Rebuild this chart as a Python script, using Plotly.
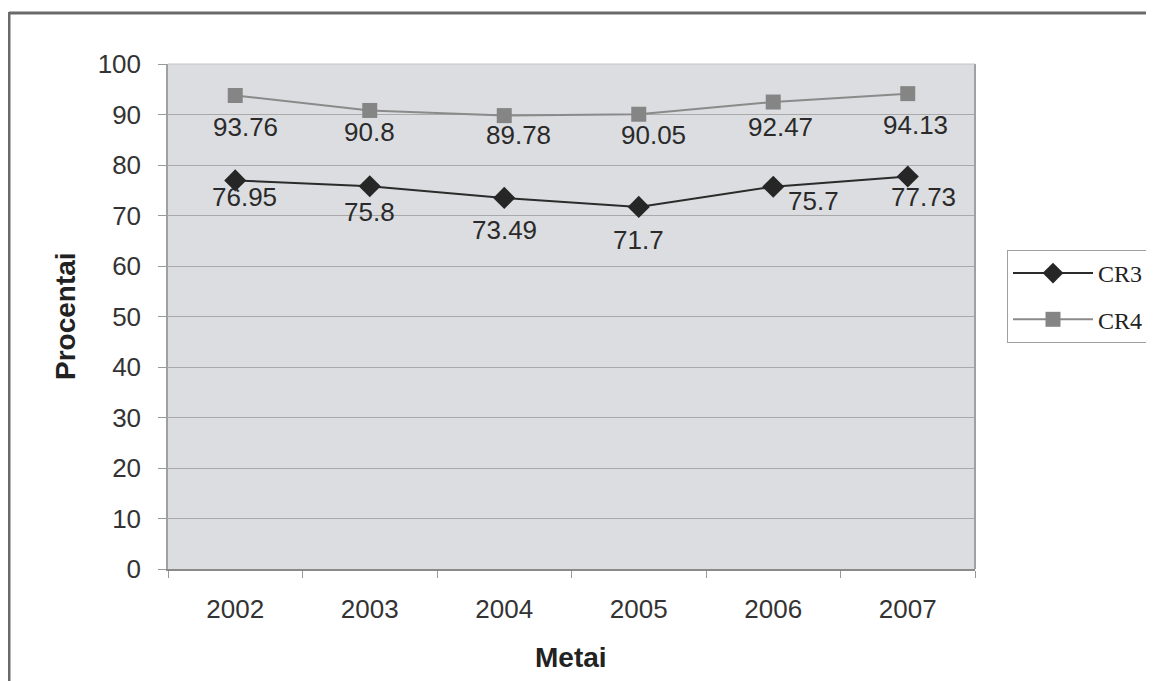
import plotly.graph_objects as go

years = ["2002", "2003", "2004", "2005", "2006", "2007"]
cr3 = [76.95, 75.8, 73.49, 71.7, 75.7, 77.73]
cr4 = [93.76, 90.8, 89.78, 90.05, 92.47, 94.13]
cr3_labels = ["76.95", "75.8", "73.49", "71.7", "75.7", "77.73"]
cr4_labels = ["93.76", "90.8", "89.78", "90.05", "92.47", "94.13"]
y_ticks = [0, 10, 20, 30, 40, 50, 60, 70, 80, 90, 100]

# label pixel offsets (style only)
cr3_off = [(9, -17), (0, -26), (0, -32), (0, -33), (40, -14), (16, -21)]
cr4_off = [(10, -31), (0, -22), (14, -19), (15, -21), (7, -25), (8, -31)]

OFF = 8  # page body margin
W, H = 1154 - OFF, 681 - OFF
PL, PR, PT, PB = 168, 975, 64, 569  # screen px of plot area
L, R, T, B = PL - OFF, W - (PR - OFF), PT - OFF, H - (PB - OFF)

fig = go.Figure()
fig.add_trace(go.Scatter(
    x=years, y=cr3, name="CR3", mode="lines+markers", legendgroup="a",
    line=dict(color="#2b2b2b", width=2),
    marker=dict(symbol="diamond", size=17, color="#262626"),
))
fig.add_trace(go.Scatter(
    x=years, y=cr4, name="CR4", mode="lines+markers", legendgroup="b",
    line=dict(color="#8a8a8a", width=2),
    marker=dict(symbol="square", size=15, color="#858585"),
))

anns = []
for ys, labs, offs in [(cr3, cr3_labels, cr3_off), (cr4, cr4_labels, cr4_off)]:
    for i, (y, t, (dx, dy)) in enumerate(zip(ys, labs, offs)):
        anns.append(dict(x=i, y=y, xref="x", yref="y", text=t, showarrow=False,
                         xshift=dx, yshift=dy, xanchor="center", yanchor="middle",
                         font=dict(family="Liberation Sans, Arial", size=26, color="#2a2a2a")))

def px(xs):
    return (xs - PL) / (PR - PL)

def py(ys):
    return (PB - ys) / (PB - PT)

anns.append(dict(xref="paper", yref="paper", x=px(65), y=py(316), text="<b>Procentai</b>",
                 textangle=-90, showarrow=False, xanchor="center", yanchor="middle",
                 font=dict(family="Liberation Sans, Arial", size=28, color="#222")))
anns.append(dict(xref="paper", yref="paper", x=px(571), y=py(657), text="<b>Metai</b>",
                 showarrow=False, xanchor="center", yanchor="middle",
                 font=dict(family="Liberation Sans, Arial", size=28, color="#222")))

shapes = [
    dict(type="line", xref="paper", yref="paper", x0=px(9), y0=py(13), x1=px(1170), y1=py(13),
         line=dict(color="#6a6a6a", width=3)),
    dict(type="line", xref="paper", yref="paper", x0=px(9), y0=py(12), x1=px(9), y1=py(700),
         line=dict(color="#6a6a6a", width=3)),
    dict(type="line", xref="paper", yref="paper", x0=1, y0=0, x1=1, y1=1,
         line=dict(color="#a0a0a0", width=2)),
    dict(type="line", xref="paper", yref="paper", x0=0, y0=1, x1=1, y1=1,
         line=dict(color="#c4c4c4", width=1)),
]

fig.update_layout(
    width=W, height=H,
    margin=dict(l=L, r=R, t=T, b=B, autoexpand=False),
    paper_bgcolor="white",
    plot_bgcolor="#dcdde0",
    showlegend=True,
    legend=dict(
        x=px(1007), y=py(250), xanchor="left", yanchor="top",
        bgcolor="white", bordercolor="#a0a0a0", borderwidth=1,
        font=dict(family="Liberation Serif, Times New Roman", size=24, color="#222"),
        tracegroupgap=12, itemwidth=80,
    ),
    annotations=anns,
    shapes=shapes,
    font=dict(family="Liberation Sans, Arial", color="#333"),
)
fig.update_xaxes(
    type="category", range=[-0.5, 5.5], tickson="boundaries",
    showgrid=False, ticks="outside", ticklen=7, tickcolor="#999",
    showline=True, linecolor="#8a8a8a", linewidth=2, mirror=False,
    tickfont=dict(family="Liberation Sans, Arial", size=26, color="#333"),
    ticklabelstandoff=16,
)
fig.update_yaxes(
    range=[0, 100], tickvals=y_ticks, showgrid=True, gridcolor="#a9a9a9", gridwidth=1,
    ticks="outside", ticklen=8, tickcolor="#999",
    showline=True, linecolor="#a0a0a0", linewidth=1.5,
    tickfont=dict(family="Liberation Sans, Arial", size=26, color="#333"),
    ticklabelstandoff=12, zeroline=False,
)

fig.write_html("out.html")
